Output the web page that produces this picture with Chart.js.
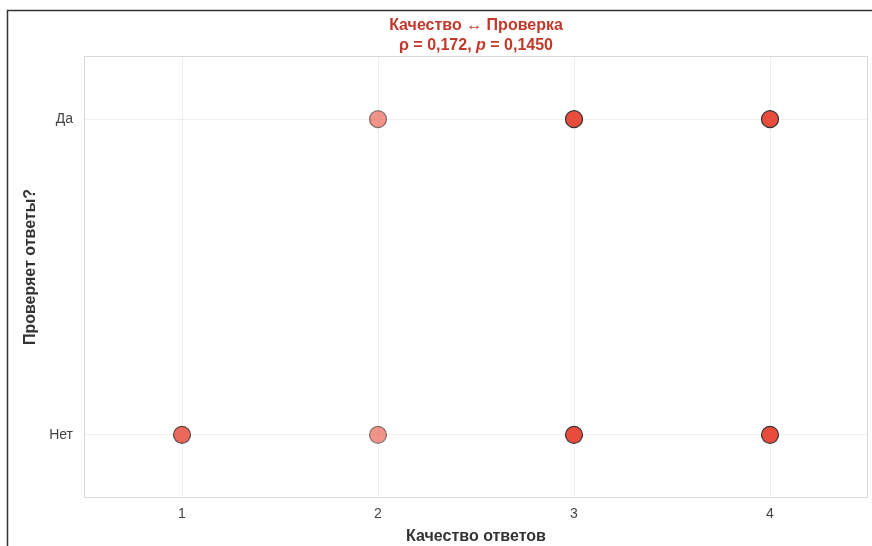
<!DOCTYPE html>
<html>
<head>
<meta charset="utf-8">
<script src="https://cdn.jsdelivr.net/npm/chart.js@4/dist/chart.umd.min.js"></script>
<style>
  html, body { margin: 0; padding: 0; background: #ffffff; }
  #wrap { width: 872px; height: 546px; position: relative; }
</style>
</head>
<body>
<div id="wrap"><canvas id="c" width="872" height="546"></canvas></div>
<script>
// Quality scores on the x axis
const qualityLevels = [1, 2, 3, 4];
// Number of respondents at each quality score, split by whether they check answers
const countsNo  = [2, 1, 18, 14];   // "Нет"
const countsYes = [0, 1, 16, 21];   // "Да"
// Binary answer categories for the y axis
const answerValues = [0, 1];
const answerLabels = ['Нет', 'Да'];

const titleLine1 = 'Качество ↔ Проверка';
const rhoText = '0,172';
const pText = '0,1450';
const xTitle = 'Качество ответов';
const yTitle = 'Проверяет ответы?';

// Marker opacity of a single respondent; stacked respondents compound it
const MARK_ALPHA = 0.6;
const stackedAlpha = n => 1 - Math.pow(1 - MARK_ALPHA, n);

// One marker per occupied cell, carrying its respondent count
function cells(counts, yValue) {
  const pts = [];
  qualityLevels.forEach((q, i) => {
    if (counts[i] > 0) pts.push({ x: q, y: yValue, n: counts[i] });
  });
  return pts;
}
const points = cells(countsNo, answerValues[0]).concat(cells(countsYes, answerValues[1]));

const FONT = "'Liberation Sans', Arial, Helvetica, sans-serif";

const decorPlugin = {
  id: 'decor',
  beforeDraw(chart) {
    const ctx = chart.ctx;
    ctx.save();
    ctx.fillStyle = '#ffffff';
    ctx.fillRect(0, 0, chart.width, chart.height);
    // outer figure frame (top and left edges)
    ctx.strokeStyle = '#333333';
    ctx.lineWidth = 1.5;
    ctx.beginPath();
    ctx.moveTo(7.5, chart.height);
    ctx.lineTo(7.5, 10.5);
    ctx.lineTo(chart.width, 10.5);
    ctx.stroke();
    ctx.restore();
  },
  beforeDatasetsDraw(chart) {
    const { ctx, chartArea: a } = chart;
    ctx.save();
    ctx.strokeStyle = '#d9d9d9';
    ctx.lineWidth = 1;
    ctx.strokeRect(Math.round(a.left) + 0.5, Math.round(a.top) + 0.5,
                   Math.round(a.right - a.left) - 1, Math.round(a.bottom - a.top) - 1);
    ctx.restore();
  },
  afterDraw(chart) {
    const { ctx, chartArea: a } = chart;
    const cx = (a.left + a.right) / 2;
    ctx.save();
    ctx.fillStyle = '#c0392b';
    ctx.textBaseline = 'middle';
    ctx.textAlign = 'center';
    ctx.font = 'bold 16px ' + FONT;
    ctx.fillText(titleLine1, cx, 26);
    // second line: ρ = …, p = … with italic p
    const bold = 'bold 16px ' + FONT;
    const boldIt = 'italic bold 16px ' + FONT;
    const parts = [
      ['ρ = ' + rhoText + ', ', bold],
      ['p', boldIt],
      [' = ' + pText, bold]
    ];
    let total = 0;
    parts.forEach(p => { ctx.font = p[1]; total += ctx.measureText(p[0]).width; });
    let x = cx - total / 2;
    ctx.textAlign = 'left';
    parts.forEach(p => { ctx.font = p[1]; ctx.fillText(p[0], x, 46); x += ctx.measureText(p[0]).width; });

    // axis titles
    ctx.fillStyle = '#333333';
    ctx.font = 'bold 16px ' + FONT;
    ctx.textAlign = 'center';
    ctx.fillText(xTitle, cx, 537);
    ctx.translate(31, 267);
    ctx.rotate(-Math.PI / 2);
    ctx.fillText(yTitle, 0, 0);
    ctx.restore();
  }
};

new Chart(document.getElementById('c'), {
  type: 'scatter',
  data: {
    datasets: [{
      data: points,
      backgroundColor: c => `rgba(231,76,60,${stackedAlpha(c.raw ? c.raw.n : 1).toFixed(3)})`,
      borderColor: c => `rgba(51,51,51,${stackedAlpha(c.raw ? c.raw.n : 1).toFixed(3)})`,
      borderWidth: 1.2,
      pointRadius: 8.5,
      pointHoverRadius: 8.5
    }]
  },
  options: {
    responsive: false,
    animation: false,
    events: [],
    layout: { autoPadding: false, padding: { top: 56, right: 4, left: 0, bottom: 0 } },
    plugins: { legend: { display: false }, title: { display: false }, tooltip: { enabled: false } },
    scales: {
      x: {
        type: 'linear',
        min: 0.5, max: 4.5,
        afterBuildTicks(s) { s.ticks = qualityLevels.map(v => ({ value: v })); },
        afterFit(s) { s.height = 48; s.paddingLeft = 0; s.paddingRight = 0; },
        grid: { color: '#eeeeee', lineWidth: 1, drawTicks: false },
        border: { display: false },
        ticks: { color: '#444444', padding: 8, font: { family: FONT, size: 14 }, callback: v => String(v) }
      },
      y: {
        type: 'linear',
        min: -0.2, max: 1.2,
        afterBuildTicks(s) { s.ticks = answerValues.map(v => ({ value: v })); },
        afterFit(s) { s.width = 84; s.paddingTop = 0; s.paddingBottom = 0; },
        grid: { color: '#eeeeee', lineWidth: 1, drawTicks: false },
        border: { display: false },
        ticks: { color: '#444444', padding: 11, font: { family: FONT, size: 14 },
                 callback: v => answerLabels[answerValues.indexOf(v)] ?? '' }
      }
    }
  },
  plugins: [decorPlugin]
});
</script>
</body>
</html>
